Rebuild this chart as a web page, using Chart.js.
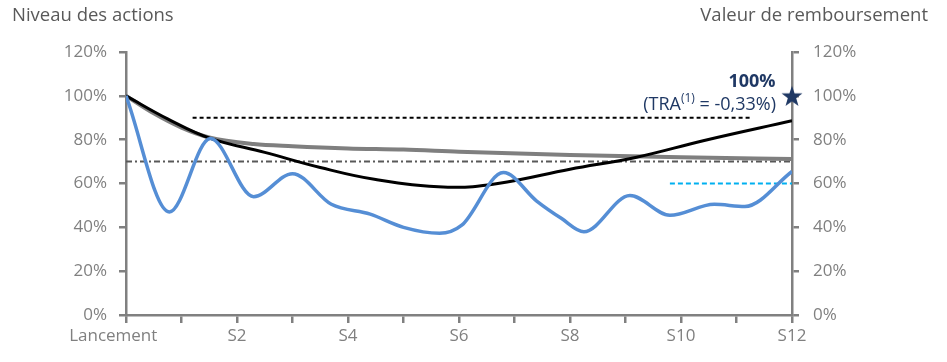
<!DOCTYPE html>
<html>
<head>
<meta charset="utf-8">
<script src="https://cdn.jsdelivr.net/npm/chart.js@4/dist/chart.umd.min.js"></script>
<style>
  html, body { margin: 0; padding: 0; background: #fff; }
  #wrap { width: 947px; height: 362px; position: relative; }
</style>
</head>
<body>
<div id="wrap"><canvas id="graphe"></canvas></div>
<script>
// Données du graphique
var categories = ['Lancement', 'S1', 'S2', 'S3', 'S4', 'S5', 'S6', 'S7', 'S8', 'S9', 'S10', 'S11', 'S12'];
var yTicks = [0, 20, 40, 60, 80, 100, 120];

// niveau des actions (courbe bleue)
var actionsX = [0, 0.78, 1.52, 2.3, 3.0, 3.7, 4.4, 5.0, 5.65, 6.05, 6.8, 7.4, 7.85, 8.25, 9.08, 9.8, 10.6, 11.15, 12];
var actionsY = [100, 47, 80.5, 54, 64.5, 50.5, 46, 40, 37.3, 41, 65, 52, 44, 38, 54.5, 45.5, 50.5, 49.5, 65.5];

// courbe noire
var noireX = [0, 0.75, 1.52, 2.5, 3.5, 4.5, 5.8, 6.7, 8.0, 9.2, 10.4, 12];
var noireY = [100, 89.5, 80.6, 74.2, 67.3, 61.8, 58.3, 60, 66.5, 72, 79.5, 88.6];

// courbe grise
var griseX = [0, 0.5, 1.0, 1.5, 2.3, 3, 4, 5, 6, 8, 10, 12];
var griseY = [100, 92, 85.5, 81, 78, 77, 76, 75.5, 74.5, 73, 72, 71.2];

// barrières
var barriereNoireX = [1.2, 11.25];
var barriereNoireY = [90, 90];
var barriereGrisX = [0, 12];
var barriereGrisY = [70, 70];
var barriereBleueX = [9.8, 12];
var barriereBleueY = [60, 60];

// remboursement
var rembX = [12];
var rembY = [100];

function pts(xs, ys) {
  var out = [];
  for (var i = 0; i < xs.length; i++) out.push({x: xs[i], y: ys[i]});
  return out;
}

// étoile pleine pour le point de remboursement
var etoile = document.createElement('canvas');
etoile.width = 22; etoile.height = 22;
(function () {
  var c = etoile.getContext('2d');
  var cx = 11, cy = 12, R = 11, r = 4.4;
  c.beginPath();
  for (var i = 0; i < 10; i++) {
    var rad = (i % 2 === 0) ? R : r;
    var a = -Math.PI / 2 + i * Math.PI / 5;
    var px = cx + rad * Math.cos(a), py = cy + rad * Math.sin(a);
    if (i === 0) c.moveTo(px, py); else c.lineTo(px, py);
  }
  c.closePath();
  c.fillStyle = '#1f3864';
  c.fill();
})();

var gris = '#808080';
var police = "'Open Sans', 'Liberation Sans', sans-serif";

var textes = {
  id: 'textes',
  afterDraw: function (chart) {
    var ctx = chart.ctx;
    var sx = chart.scales.x, sy = chart.scales.y;
    ctx.save();
    ctx.fillStyle = '#595959';
    ctx.font = '18.5px ' + police;
    ctx.textBaseline = 'middle';
    ctx.textAlign = 'left';
    ctx.fillText('Niveau des actions', 12, 16);
    ctx.textAlign = 'right';
    ctx.fillText('Valeur de remboursement', 928, 16);

    // annotation remboursement
    var xr = sx.getPixelForValue(12) - 16;
    var y100 = sy.getPixelForValue(100);
    ctx.fillStyle = '#1f3864';
    ctx.font = 'bold 18px ' + police;
    ctx.textAlign = 'center';
    ctx.fillText('100%', xr - 24, y100 - 14);
    var p1 = '(TRA', sup = '(1)', p2 = ' = -0,33%)';
    ctx.font = '18px ' + police;
    var w1 = ctx.measureText(p1).width, w2 = ctx.measureText(p2).width;
    ctx.font = '12px ' + police;
    var ws = ctx.measureText(sup).width;
    var x0 = xr - (w1 + ws + w2);
    ctx.textAlign = 'left';
    ctx.font = '18px ' + police;
    ctx.fillText(p1, x0, y100 + 9);
    ctx.font = '12px ' + police;
    ctx.fillText(sup, x0 + w1, y100 + 3);
    ctx.font = '18px ' + police;
    ctx.fillText(p2, x0 + w1 + ws, y100 + 9);
    ctx.restore();
  }
};

var ctx = document.getElementById('graphe').getContext('2d');
var chart = new Chart(ctx, {
  type: 'line',
  data: {
    datasets: [
      {
        data: pts(rembX, rembY),
        showLine: false,
        pointStyle: etoile,
        pointRadius: 11,
        clip: false,
        yAxisID: 'y2'
      },
      {
        data: pts(actionsX, actionsY),
        borderColor: '#558ed5',
        borderWidth: 3.5,
        pointRadius: 0,
        cubicInterpolationMode: 'monotone'
      },
      {
        data: pts(noireX, noireY),
        borderColor: '#000000',
        borderWidth: 3,
        pointRadius: 0,
        tension: 0.4
      },
      {
        data: pts(griseX, griseY),
        borderColor: '#7f7f7f',
        borderWidth: 4,
        pointRadius: 0,
        cubicInterpolationMode: 'monotone'
      },
      {
        data: pts(barriereNoireX, barriereNoireY),
        borderColor: '#000000',
        borderWidth: 2,
        borderDash: [4, 3],
        pointRadius: 0
      },
      {
        data: pts(barriereGrisX, barriereGrisY),
        borderColor: '#595959',
        borderWidth: 2,
        borderDash: [6, 3, 2, 3],
        pointRadius: 0
      },
      {
        data: pts(barriereBleueX, barriereBleueY),
        borderColor: '#00b0f0',
        borderWidth: 2,
        borderDash: [5, 3],
        pointRadius: 0
      }
    ]
  },
  options: {
    responsive: true,
    maintainAspectRatio: false,
    animation: false,
    layout: { padding: { top: 52, left: 0, right: 0, bottom: 0 } },
    plugins: { legend: { display: false }, tooltip: { enabled: false } },
    scales: {
      x: {
        type: 'linear',
        min: 0, max: 12,
        afterFit: function (s) { s.height = 47; },
        afterBuildTicks: function (s) {
          s.ticks = categories.map(function (c, i) { return {value: i}; });
        },
        border: { display: true, color: gris, width: 2.5 },
        grid: { drawOnChartArea: false, drawTicks: true, tickLength: 8, color: gris, lineWidth: 2.5 },
        ticks: {
          color: gris,
          font: { family: police, size: 17 },
          maxRotation: 0,
          autoSkip: false,
          padding: 3,
          callback: function (v) {
            if (v % 2 !== 0) return '';
            // le premier libellé est décalé vers la gauche comme sur l'original
            return v === 0 ? categories[v] + '\u2003\u2002' : categories[v];
          }
        }
      },
      y: {
        position: 'left',
        min: 0, max: 120,
        afterFit: function (s) { s.width = 126; },
        afterBuildTicks: function (s) { s.ticks = yTicks.map(function (v) { return {value: v}; }); },
        border: { display: true, color: gris, width: 2.5 },
        grid: { drawOnChartArea: false, drawTicks: true, tickLength: 7, color: gris, lineWidth: 2.5 },
        ticks: { color: gris, font: { family: police, size: 17 }, padding: 12, callback: function (v) { return v + '%'; } }
      },
      y2: {
        position: 'right',
        min: 0, max: 120,
        afterFit: function (s) { s.width = 155; },
        afterBuildTicks: function (s) { s.ticks = yTicks.map(function (v) { return {value: v}; }); },
        border: { display: true, color: gris, width: 2.5 },
        grid: { drawOnChartArea: false, drawTicks: true, tickLength: 7, color: gris, lineWidth: 2.5 },
        ticks: { color: gris, font: { family: police, size: 17 }, padding: 14, callback: function (v) { return v + '%'; } }
      }
    }
  },
  plugins: [textes]
});
</script>
</body>
</html>
